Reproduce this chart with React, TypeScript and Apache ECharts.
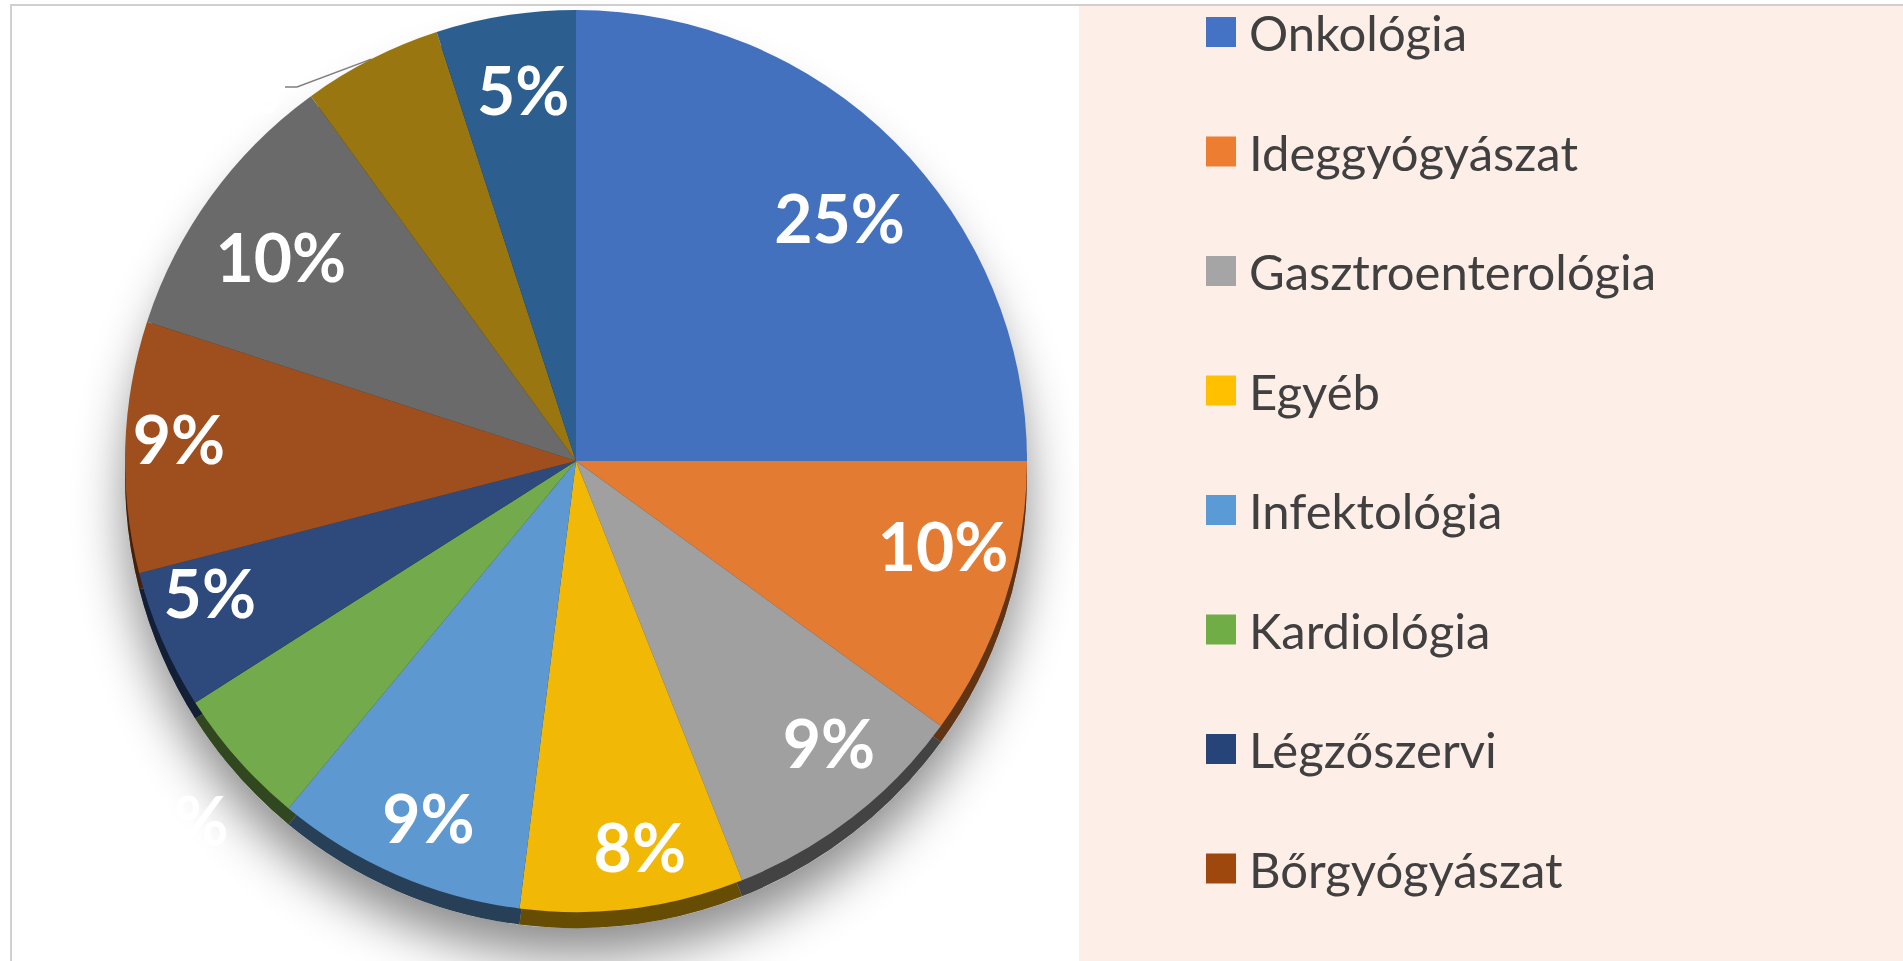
import React, { useEffect, useRef } from 'react';
import * as echarts from 'echarts';

// ---- data ----
const categories = [
  'Onkológia',
  'Ideggyógyászat',
  'Gasztroenterológia',
  'Egyéb',
  'Infektológia',
  'Kardiológia',
  'Légzőszervi',
  'Bőrgyógyászat',
  '(9)',
  '(10)',
  '(11)',
];
const shares = [25, 10, 9, 8, 9, 5, 5, 9, 10, 5, 5];
const legendNames = categories.slice(0, 8);

// ---- styles ----
const faceColors = [
  '#4471BD', '#E47B33', '#A0A0A0', '#F2B806', '#5D98D0', '#73AA4C',
  '#2E4A7C', '#9F4F1D', '#6A6A6A', '#99760F', '#2C5F8F',
];
const legendColors = [
  '#4472C4', '#ED7D31', '#A5A5A5', '#FFC000', '#5B9BD5', '#70AD47', '#264478', '#9E480E',
];
// label placement: radial reach (share of radius) and small angular nudge (degrees)
const labelReach = [0.795, 0.835, 0.84, 0.866, 0.855, 1.18, 0.863, 0.882, 0.796, 0, 0.833];
const labelShift = [2.3, -5.1, -4.1, -2.2, -0.9, -0.9, 3.6, 1.5, -1.3, 0, 0.9];
const OUTSIDE_LABEL = 9;

const CX = 576;
const CY = 461;
const R = 451;
const DEPTH = 16;

function darken(hex: string, k: number) {
  const n = parseInt(hex.slice(1), 16);
  const r = Math.round(((n >> 16) & 255) * k);
  const g = Math.round(((n >> 8) & 255) * k);
  const b = Math.round((n & 255) * k);
  return `rgb(${r},${g},${b})`;
}

function buildOption() {
  const total = shares.reduce((a, b) => a + b, 0);
  const mid: number[] = [];
  let acc = 0;
  shares.forEach((v) => {
    mid.push(((acc + v / 2) / total) * 360);
    acc += v;
  });

  const mainData = categories.map((name, i) => {
    const item: any = { name, value: shares[i], itemStyle: { color: faceColors[i] } };
    if (i === OUTSIDE_LABEL) {
      item.label = { position: 'outside' };
      item.labelLine = { show: true, length: 20, length2: 10, lineStyle: { color: '#808080', width: 1.5 } };
    }
    return item;
  });
  const sideData = categories.map((name, i) => ({
    name,
    value: shares[i],
    itemStyle: { color: darken(faceColors[i], 0.42) },
  }));

  return {
    animation: false,
    backgroundColor: '#ffffff',
    graphic: [
      {
        type: 'rect',
        z: -10,
        silent: true,
        shape: { x: 1079, y: 6, width: 824, height: 955 },
        style: { fill: '#FDEFE8' },
      },
      {
        type: 'line',
        silent: true,
        shape: { x1: 10, y1: 5, x2: 1903, y2: 5 },
        style: { stroke: '#D0D0D0', lineWidth: 2 },
      },
      {
        type: 'line',
        silent: true,
        shape: { x1: 11, y1: 4, x2: 11, y2: 961 },
        style: { stroke: '#D0D0D0', lineWidth: 2 },
      },
    ],
    legend: {
      orient: 'vertical',
      left: 1206,
      top: 7,
      padding: 0,
      itemWidth: 30,
      itemHeight: 30,
      itemGap: 69.5,
      icon: 'rect',
      selectedMode: false,
      data: legendNames.map((name, i) => ({ name, itemStyle: { color: legendColors[i] } })),
      textStyle: {
        fontFamily: 'Lato',
        fontSize: 49,
        lineHeight: 50,
        color: '#404040',
        padding: [0, 0, 0, 8],
      },
    },
    series: [
      {
        type: 'pie',
        name: 'shadow',
        silent: true,
        center: [CX, CY + DEPTH],
        radius: R,
        label: { show: false },
        labelLine: { show: false },
        itemStyle: {
          color: '#bbbbbb',
          shadowBlur: 50,
          shadowOffsetY: 28,
          shadowColor: 'rgba(0,0,0,0.45)',
        },
        data: [{ name: '__base', value: 1 }],
      },
      {
        type: 'pie',
        name: 'side',
        silent: true,
        center: [CX, CY + DEPTH],
        radius: R,
        startAngle: 90,
        clockwise: true,
        label: { show: false },
        labelLine: { show: false },
        data: sideData,
      },
      {
        type: 'pie',
        name: 'Osztályok',
        silent: true,
        center: [CX, CY],
        radius: R,
        startAngle: 90,
        clockwise: true,
        avoidLabelOverlap: false,
        label: {
          show: true,
          position: 'inside',
          color: '#ffffff',
          fontFamily: 'Lato',
          fontWeight: 'bold',
          fontSize: 66,
          formatter: (p: any) => `${Math.round(p.percent)}%`,
        },
        labelLine: { show: false },
        labelLayout: (p: any) => {
          const i = p.dataIndex;
          if (i === OUTSIDE_LABEL) {
            const a0 = (mid[i] * Math.PI) / 180;
            const p0 = [CX + R * Math.sin(a0), CY - R * Math.cos(a0)];
            return {
              x: 280,
              y: 87,
              align: 'right',
              verticalAlign: 'middle',
              labelLinePoints: [p0, [297, 87], [285, 87]],
            };
          }
          const a = ((mid[i] + labelShift[i]) * Math.PI) / 180;
          return {
            x: CX + labelReach[i] * R * Math.sin(a),
            y: CY - labelReach[i] * R * Math.cos(a),
            align: 'center',
            verticalAlign: 'middle',
          };
        },
        data: mainData,
      },
    ],
  };
}

export default function App() {
  const ref = useRef<HTMLDivElement>(null);
  useEffect(() => {
    if (!ref.current) return;
    const chart = echarts.init(ref.current, null, { renderer: 'svg' });
    chart.setOption(buildOption() as any);
    return () => chart.dispose();
  }, []);
  return (
    <div
      ref={ref}
      style={{ position: 'fixed', left: 0, top: 0, width: 1903, height: 961 }}
    />
  );
}
